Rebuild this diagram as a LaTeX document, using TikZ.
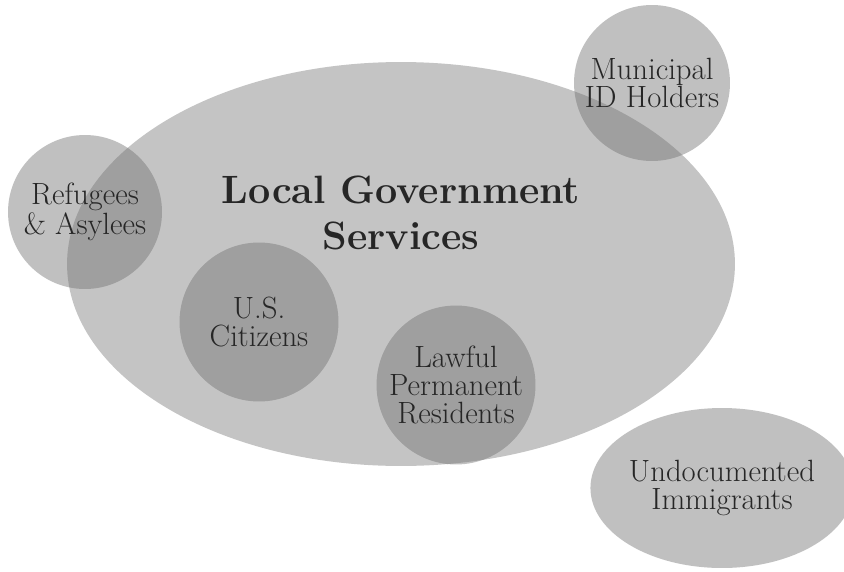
\documentclass[tikz,border=0pt]{standalone}
\usetikzlibrary{shapes.geometric}
\definecolor{areagray}{gray}{0.77}
\definecolor{setgray}{gray}{0.44}
\tikzset{
  groupset/.style={circle, fill=setgray, fill opacity=0.44, text opacity=1,
    inner sep=0pt, align=center, text=black!85,
    font=\fontsize{17.5}{15.8}\selectfont},
}
\begin{document}
\begin{tikzpicture}[x=0.02cm, y=-0.02cm]
  % frame of the picture
  \useasboundingbox[fill=white] (0,0) rectangle (844,571);

  % Local government services area
  \node (lgs) [ellipse, fill=areagray, minimum width=13.36cm, minimum height=8.08cm] at (401,264) {};
  \node (title) [align=center, font=\fontsize{22.5}{26}\selectfont\bfseries, text=black!85] at (401,213) {Local Government\\Services};

  % Groups inside and around the area
  \node (refugees) [groupset, minimum size=3.08cm] at (85,212) {Refugees\\\& Asylees};
  \node (municipal) [groupset, minimum size=3.12cm] at (652,83) {Municipal\\ID Holders};
  \node (citizens) [groupset, minimum size=3.18cm] at (259,322) {U.S.\\Citizens};
  \node (lpr) [groupset, minimum size=3.18cm] at (456,385) {Lawful\\Permanent\\Residents};

  % Group outside the area
  \node (undocumented) [groupset, ellipse, minimum width=5.22cm, minimum height=3.2cm] at (722,488) {Undocumented\\Immigrants};
\end{tikzpicture}
\end{document}
